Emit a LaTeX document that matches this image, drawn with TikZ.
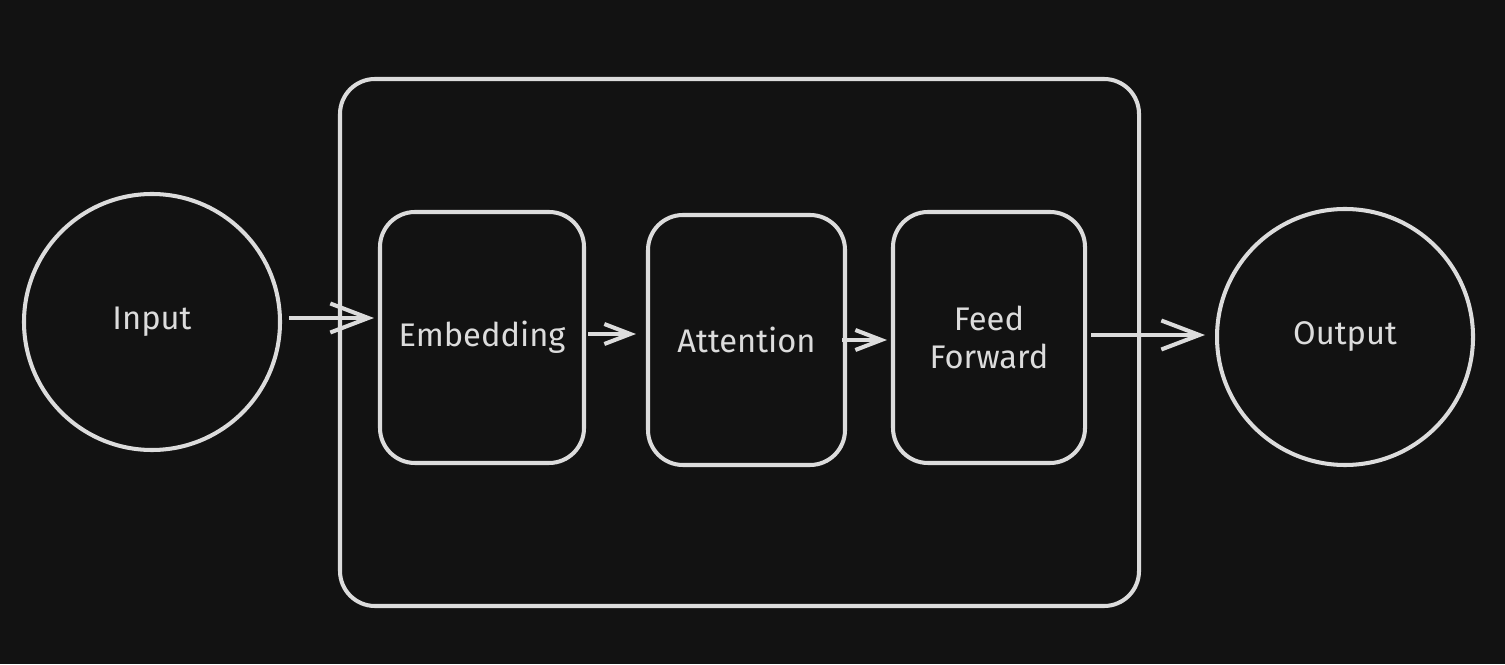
\documentclass[tikz,border=0pt]{standalone}
\usepackage{fontspec}
\setmainfont{Fira Sans}
\usepackage{tikz}
\usepackage{xcolor}
\usetikzlibrary{arrows.meta,positioning}

\definecolor{bgdark}{HTML}{121212}
\definecolor{chalk}{HTML}{DCDCDC}

\begin{document}
\begin{tikzpicture}[
    every node/.style={text=chalk, font=\fontsize{9.3}{10.8}\selectfont},
    ball/.style={circle, draw=chalk, line width=1.15pt, minimum size=2.56cm, inner sep=0pt},
    block/.style={rectangle, rounded corners=0.35cm, draw=chalk, line width=1.15pt, inner sep=0pt, align=center},
    arr/.style={draw=chalk, line width=1.15pt, -{Straight Barb[length=0.26cm, width=0.2cm, line width=1.15pt]}},
    bigarr/.style={arr, -{Straight Barb[length=0.38cm, width=0.29cm, line width=1.15pt]}}
  ]
    % Background
    \fill [bgdark] (0,0) rectangle (15.05,6.64);
    \useasboundingbox (0,0) rectangle (15.05,6.64);

    % Outer frame
    \node (frame) [block, minimum width=7.99cm, minimum height=5.27cm] at (7.395,3.215) {};

    % Ends
    \node (inp) [ball] at (1.52,3.42) {Input};
    \node (out) [ball] at (13.45,3.27) {Output};

    % Stages
    \node (emb) [block, minimum width=2.04cm, minimum height=2.51cm] at (4.82,3.265) {Embedding};
    \node (att) [block, minimum width=1.97cm, minimum height=2.50cm] at (7.465,3.24) {Attention};
    \node (ffw) [block, minimum width=1.92cm, minimum height=2.51cm] at (9.89,3.265) {Feed\\Forward};

    % Connections
    \draw [bigarr, shorten <=0.07cm, shorten >=0.04cm] ([yshift=0.04cm]inp.east) -- ([yshift=0.04cm]inp.east -| emb.west);
    \draw [arr, shorten <=0.02cm, shorten >=0.1cm] ([yshift=0.035cm]emb.east) -- ([yshift=0.035cm]emb.east -| att.west);
    \draw [arr, shorten <=-0.05cm, shorten >=0.04cm] (att.east) -- (att.east -| ffw.west);
    \draw [bigarr, shorten <=0.04cm, shorten >=0.1cm] ([yshift=0.025cm]ffw.east) -- ([yshift=0.025cm]ffw.east -| out.west);
\end{tikzpicture}
\end{document}
